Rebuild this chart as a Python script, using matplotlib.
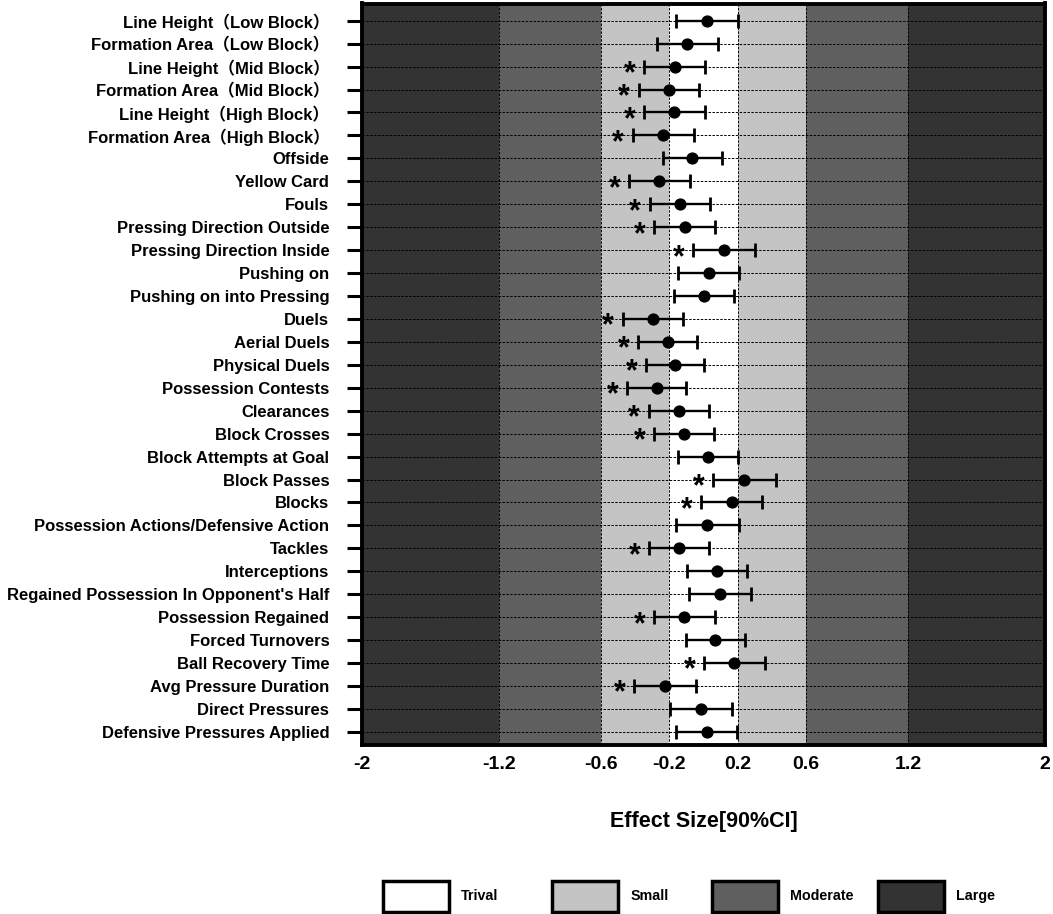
import matplotlib
matplotlib.use("Agg")
import matplotlib.pyplot as plt
from matplotlib.patches import Patch
import numpy as np

plt.rcParams['font.family'] = ['Liberation Sans', 'Noto Sans CJK SC', 'DejaVu Sans']
plt.rcParams['font.weight'] = 'bold'

labels = [
    "Line Height（Low Block）",
    "Formation Area（Low Block）",
    "Line Height（Mid Block）",
    "Formation Area（Mid Block）",
    "Line Height（High Block）",
    "Formation Area（High Block）",
    "Offside",
    "Yellow Card",
    "Fouls",
    "Pressing Direction Outside",
    "Pressing Direction Inside",
    "Pushing on",
    "Pushing on into Pressing",
    "Duels",
    "Aerial Duels",
    "Physical Duels",
    "Possession Contests",
    "Clearances",
    "Block Crosses",
    "Block Attempts at Goal",
    "Block Passes",
    "Blocks",
    "Possession Actions/Defensive Action",
    "Tackles",
    "Interceptions",
    "Regained Possession In Opponent's Half",
    "Possession Regained",
    "Forced Turnovers",
    "Ball Recovery Time",
    "Avg Pressure Duration",
    "Direct Pressures",
    "Defensive Pressures Applied",
]

effect = [0.019, -0.097, -0.169, -0.204, -0.171, -0.235, -0.065, -0.258,
          -0.137, -0.110, 0.118, 0.030, 0.003, -0.295, -0.209, -0.167,
          -0.274, -0.145, -0.114, 0.024, 0.239, 0.165, 0.022, -0.143,
          0.079, 0.096, -0.114, 0.069, 0.180, -0.227, -0.015, 0.019]
ci_low = [-0.163, -0.274, -0.346, -0.379, -0.348, -0.414, -0.239, -0.436,
          -0.315, -0.289, -0.060, -0.149, -0.172, -0.473, -0.381, -0.334,
          -0.447, -0.321, -0.288, -0.151, 0.057, -0.015, -0.161, -0.319,
          -0.098, -0.083, -0.289, -0.104, 0.003, -0.408, -0.198, -0.163]
ci_high = [0.200, 0.085, 0.011, -0.026, 0.007, -0.057, 0.110, -0.081,
           0.038, 0.067, 0.301, 0.209, 0.180, -0.122, -0.038, 0.003,
           -0.100, 0.030, 0.060, 0.200, 0.422, 0.342, 0.208, 0.034,
           0.256, 0.278, 0.067, 0.244, 0.361, -0.044, 0.168, 0.198]
significant = [False, False, True, True, True, True, False, True,
               True, True, True, False, False, True, True, True,
               True, True, True, False, True, True, False, True,
               False, False, True, False, True, True, False, False]

band_edges = [-2, -1.2, -0.6, -0.2, 0.2, 0.6, 1.2, 2]
band_colors = ['#333333', '#5f5f5f', '#c4c4c4', '#ffffff', '#c4c4c4', '#5f5f5f', '#333333']
xticks = [-2, -1.2, -0.6, -0.2, 0.2, 0.6, 1.2, 2]
xtick_labels = ['-2', '-1.2', '-0.6', '-0.2', '0.2', '0.6', '1.2', '2']
legend_names = ['Trival', 'Small', 'Moderate', 'Large']
legend_colors = ['#ffffff', '#c4c4c4', '#5f5f5f', '#333333']

W, H = 1053, 914
fig = plt.figure(figsize=(W / 100, H / 100), dpi=100)
ax = fig.add_axes([362 / W, 1 - 745 / H, (1045 - 362) / W, (745 - 3.5) / H])

n = len(labels)
y = np.arange(n)
eff = np.array(effect)
lo = np.array(ci_low)
hi = np.array(ci_high)

for i in range(len(band_colors)):
    ax.axvspan(band_edges[i], band_edges[i + 1], color=band_colors[i], zorder=0, lw=0)
for e in band_edges[1:-1]:
    ax.axvline(e, color='black', lw=0.7, ls=(0, (2.5, 1.5)), zorder=1)
for yi in y:
    ax.axhline(yi, color='black', lw=0.7, ls=(0, (2.5, 1.5)), zorder=1)

ax.errorbar(eff, y, xerr=[eff - lo, hi - eff], fmt='o', color='black',
            ms=7.8, elinewidth=1.7, capsize=4.7, capthick=2.0, zorder=3)

for yi, l, s in zip(y, lo, significant):
    if s:
        ax.annotate('*', xy=(l - 0.085, yi), xytext=(0, -5.5), textcoords='offset points',
                    ha='center', va='center', fontsize=22, fontweight='bold', zorder=4)

ax.set_xlim(-2, 2)
ax.set_ylim(n - 1 + 0.57, -0.75)
ax.set_yticks(y)
ax.set_yticklabels(labels, fontsize=12, fontweight='bold')
ax.set_xticks(xticks)
ax.set_xticklabels(xtick_labels, fontsize=14, fontweight='bold')
ax.tick_params(axis='y', length=10.5, width=2.2, pad=13)
ax.tick_params(axis='x', length=0, pad=8)
for sp in ax.spines.values():
    sp.set_linewidth(2.8)

fig.text(703.5 / W, 1 - 821 / H, 'Effect Size[90%CI]', ha='center', va='center',
         fontsize=15.5, fontweight='bold')

box_left = [382.7, 552.3, 711.7, 878.3]
fs = 10.3
fpx = fs * 100 / 72
hh = (31 - 0.245 * fpx) / (0.65 * fpx)
for name, col, bx in zip(legend_names, legend_colors, box_left):
    h = Patch(facecolor=col, edgecolor='black', linewidth=2.5)
    fig.legend([h], [name], loc='center left', bbox_to_anchor=(bx / W, 1 - 896 / H),
               frameon=False, borderpad=0, borderaxespad=0,
               handlelength=66 / fpx, handleheight=hh,
               handletextpad=12 / fpx, prop={'weight': 'bold', 'size': fs})

fig.savefig('out.png', dpi=100)
